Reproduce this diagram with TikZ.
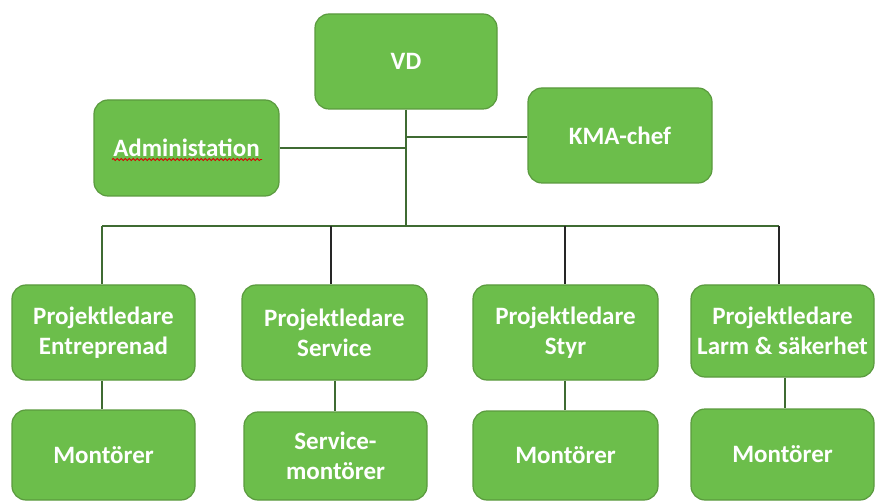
\documentclass[tikz,border=0pt]{standalone}
\usepackage{fontspec}
\setmainfont{Carlito}
\usetikzlibrary{decorations.pathmorphing}
\definecolor{boxfill}{HTML}{6CBE4B}
\definecolor{boxedge}{HTML}{5A9A3E}
\definecolor{linegreen}{HTML}{3F6B32}
\tikzset{
  orgbox/.style={draw=boxedge, line width=1.2pt, fill=boxfill, rounded corners=14pt,
    text=white, font=\fontsize{25}{30}\selectfont\bfseries, align=center,
    inner sep=0pt, minimum width=#1},
  orgbox/.default=183pt,
  conn/.style={draw=linegreen, line width=1.5pt},
  connk/.style={draw=black!85, line width=1.5pt}
}
\begin{document}
\begin{tikzpicture}[x=1pt,y=-1pt]
\useasboundingbox (0,0) rectangle (880,502);
% nodes
\node[orgbox=182pt, minimum height=95pt] (vd) at (406,61.5) {VD};
\node[orgbox=185pt, minimum height=96pt] (adm) at (186.5,148) {Administation};
\node[orgbox=184pt, minimum height=95pt] (kma) at (620,135.5) {KMA-chef};
\node[orgbox=183pt, minimum height=95pt] (p1) at (103.5,332.5) {Projektledare\\Entreprenad};
\node[orgbox=185pt, minimum height=95pt] (p2) at (334.5,332.5) {Projektledare\\Service};
\node[orgbox=185pt, minimum height=95pt] (p3) at (565.5,332.5) {Projektledare\\Styr};
\node[orgbox=183pt, minimum height=92pt] (p4) at (782.5,331) {Projektledare\\Larm \& säkerhet};
\node[orgbox=183pt, minimum height=90pt] (m1) at (103.5,455) {Montörer};
\node[orgbox=183pt, minimum height=88pt] (m2) at (335.5,456) {Service-\\montörer};
\node[orgbox=185pt, minimum height=89pt] (m3) at (565.5,455.5) {Montörer};
\node[orgbox=183pt, minimum height=91pt] (m4) at (782.5,454.5) {Montörer};
% spelling underline
\draw[red!85!black, line width=0.8pt, decorate,
  decoration={snake, amplitude=1.1pt, segment length=4pt}]
  (112,159.5) -- (262,159.5);
% junction coordinates
\coordinate (jk) at (406,137);
\coordinate (ja) at (406,148);
\coordinate (jb) at (406,226);
\coordinate (b1) at (102,226);
\coordinate (b2) at (331,226);
\coordinate (b3) at (565,226);
\coordinate (b4) at (779,226);
\coordinate (l1) at (102,400);
\coordinate (l2) at (335,400);
\coordinate (l3) at (565,400);
\coordinate (l4) at (785,400);
% connectors
\draw[conn] (vd.south) -- (jb);
\draw[conn] (jk) -- (kma.west |- jk);
\draw[conn] (adm.east |- ja) -- (ja);
\draw[conn] (b1) -- (b4);
\draw[conn] (b1) -- (b1 |- p1.north);
\draw[connk] (b2) -- (b2 |- p2.north);
\draw[connk] (b3) -- (b3 |- p3.north);
\draw[connk] (b4) -- (b4 |- p4.north);
\draw[conn] (l1 |- p1.south) -- (l1 |- m1.north);
\draw[conn] (l2 |- p2.south) -- (l2 |- m2.north);
\draw[conn] (l3 |- p3.south) -- (l3 |- m3.north);
\draw[conn] (l4 |- p4.south) -- (l4 |- m4.north);
\end{tikzpicture}
\end{document}
